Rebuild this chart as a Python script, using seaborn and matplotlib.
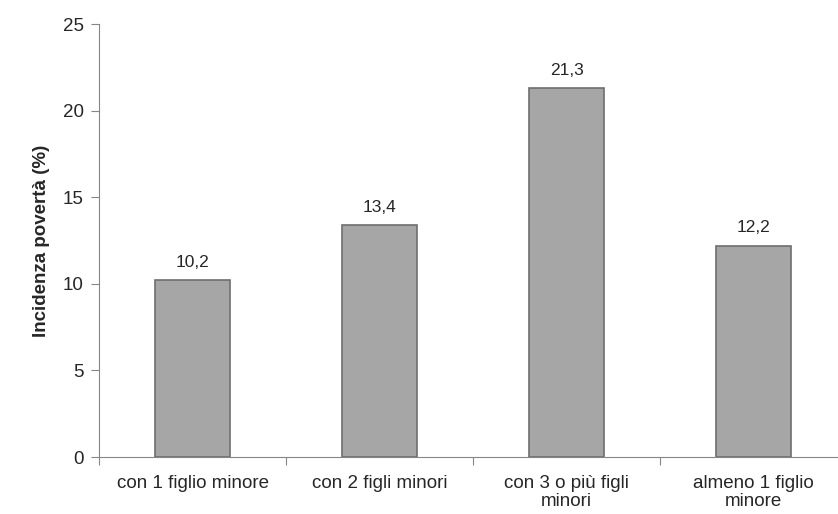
import pandas as pd
import matplotlib.pyplot as plt
import seaborn as sns

categorie = ['con 1 figlio minore', 'con 2 figli minori', 'con 3 o più figli\nminori', 'almeno 1 figlio\nminore']
incidenza = [10.2, 13.4, 21.3, 12.2]
etichette = ['10,2', '13,4', '21,3', '12,2']

df = pd.DataFrame({'categoria': categorie, 'incidenza': incidenza})

sns.set_style('white')
plt.rcParams['font.family'] = ['Liberation Sans', 'DejaVu Sans']

fig = plt.figure(figsize=(8.38, 5.14), dpi=100)
ax = fig.add_axes([99 / 838, 57 / 514, (838 - 99) / 838, (457 - 24) / 514])

sns.barplot(data=df, x='categoria', y='incidenza', color='#a6a6a6',
            width=0.4, edgecolor='#6e6e6e', linewidth=1.2, saturation=1, ax=ax)

for i, (v, t) in enumerate(zip(incidenza, etichette)):
    ax.text(i, v + 0.6, t, ha='center', va='bottom', fontsize=12.5)

ax.set_ylim(0, 25)
ax.set_xlim(-0.5, -0.5 + (838 - 99) / 187)
ax.set_yticks([0, 5, 10, 15, 20, 25])
ax.set_xticks([-0.5, 0.5, 1.5, 2.5])
ax.set_xticklabels([])
ax.set_xticks([0, 1, 2, 3], minor=True)
ax.set_xticklabels(categorie, minor=True, fontsize=13.5, linespacing=1.1)
ax.tick_params(axis='x', which='minor', length=0, pad=13)
ax.tick_params(axis='x', which='major', length=6, color='#868686', direction='out')
ax.tick_params(axis='y', length=6, color='#868686', direction='out', labelsize=13.5, pad=5)
ax.xaxis.set_tick_params(bottom=True)
ax.yaxis.set_tick_params(left=True)

sns.despine(ax=ax)
ax.spines['left'].set_color('#868686')
ax.spines['bottom'].set_color('#868686')

ax.set_xlabel('')
ax.set_ylabel('Incidenza povertà (%)', fontsize=13.5, fontweight='bold', labelpad=9)

plt.savefig('out.png', dpi=100)
